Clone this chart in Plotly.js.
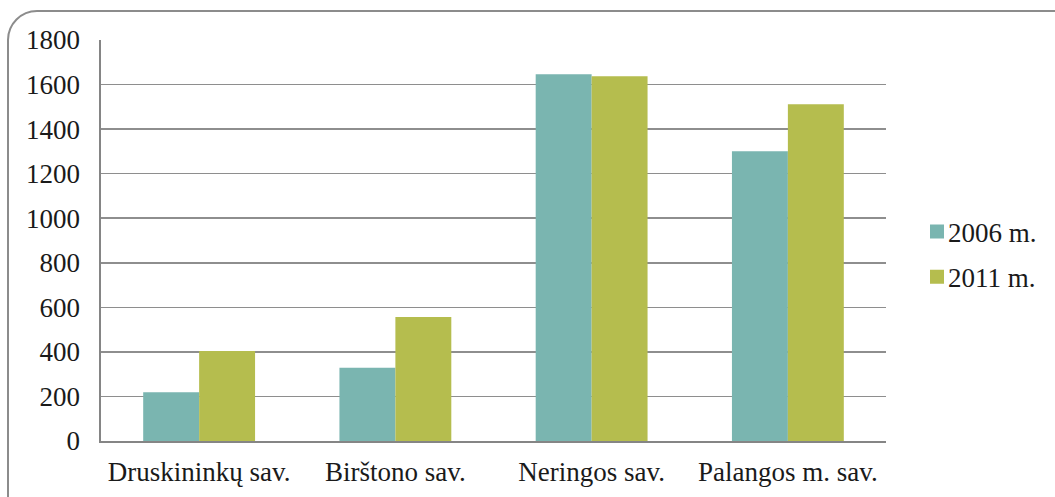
<!DOCTYPE html>
<html>
<head>
<meta charset="utf-8">
<script src="https://cdn.plot.ly/plotly-3.0.1.min.js"></script>
<style>
html,body{margin:0;padding:0;overflow:hidden;background:#fff;width:1055px;height:497px;}
#chart{position:absolute;left:0;top:0;width:1055px;height:497px;}
#frame{position:absolute;left:7px;top:10px;width:1090px;height:520px;border:2px solid #8c8c8c;border-radius:30px;pointer-events:none;}
</style>
</head>
<body>
<div id="chart"></div>
<div id="frame"></div>
<script>
const categories = ["Druskininkų sav.", "Birštono sav.", "Neringos sav.", "Palangos m. sav."];
const series2006 = [219, 329, 1646, 1301];
const series2011 = [404, 557, 1637, 1512];
const seriesNames = ["2006 m.", "2011 m."];
const yTicks = [0, 200, 400, 600, 800, 1000, 1200, 1400, 1600, 1800];

const font = {family: "Liberation Serif", size: 27, color: "#1a1a1a"};

const traces = [
  {type: "bar", x: categories, y: series2006, name: seriesNames[0], legendgroup: "a",
   marker: {color: "#7AB5B0", line: {width: 0}}},
  {type: "bar", x: categories, y: series2011, name: seriesNames[1], legendgroup: "b",
   marker: {color: "#B5BD4E", line: {width: 0}}}
];

const layout = {
  width: 1055, height: 497,
  margin: {l: 101, r: 169, t: 40, b: 56, pad: 0},
  paper_bgcolor: "#ffffff", plot_bgcolor: "#ffffff",
  font: font,
  barmode: "group", bargap: 0.43, bargroupgap: 0,
  showlegend: true,
  legend: {x: 1.02, xanchor: "left", y: 0.465, yanchor: "middle",
    font: font, traceorder: "grouped", tracegroupgap: 7,
    itemwidth: 30, bgcolor: "rgba(0,0,0,0)"},
  xaxis: {type: "category", showgrid: false, showline: true, linecolor: "#858585", linewidth: 2,
    ticks: "outside", ticklen: 6, tickcolor: "rgba(0,0,0,0)", tickfont: font, zeroline: false},
  yaxis: {range: [0, 1800], tickvals: yTicks, ticktext: yTicks.map(String),
    showgrid: true, gridcolor: "#8e8e8e", gridwidth: 1.5,
    showline: true, linecolor: "#858585", linewidth: 2.5,
    ticks: "outside", ticklen: 13, tickcolor: "rgba(0,0,0,0)", tickfont: font, zeroline: false}
};

Plotly.newPlot("chart", traces, layout, {displayModeBar: false, staticPlot: true}).then(() => {
  document.querySelectorAll(".legend .legendpoints path").forEach(p => {
    p.setAttribute("d", "M-7,-7H7V7H-7Z");
  });
  document.querySelectorAll(".legend text.legendtext").forEach(t => {
    const x = parseFloat(t.getAttribute("x")) || 40;
    t.setAttribute("x", x - 9);
  });
  const lg = document.querySelector("g.legend");
  if (lg) {
    const tr = lg.getAttribute("transform") || "";
    const m = tr.match(/translate\(([-\d.]+)[ ,]+([-\d.]+)\)/);
    if (m) {
      const plotRight = 1055 - 169;
      const desired = 917; // legend box left edge
      lg.setAttribute("transform", "translate(" + desired + "," + m[2] + ")");
    }
  }
});
</script>
</body>
</html>
